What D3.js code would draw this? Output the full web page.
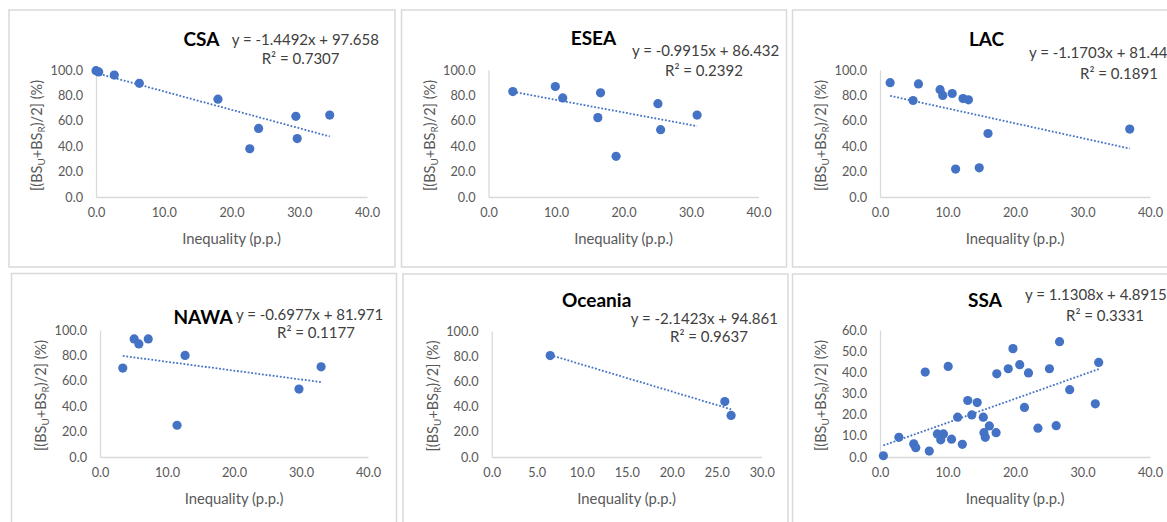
<!DOCTYPE html>
<html>
<head>
<meta charset="utf-8">
<script src="https://cdn.jsdelivr.net/npm/d3@7"></script>
<style>
  html, body { margin: 0; padding: 0; background: #ffffff; }
  svg { display: block; font-family: Lato, "Open Sans", "Liberation Sans", sans-serif; }
</style>
</head>
<body>
<svg id="chart" width="1167" height="522"></svg>
<script>
// Regions, one small multiple each
const regions = ["CSA", "ESEA", "LAC", "NAWA", "Oceania", "SSA"];

// Inequality (p.p.) and average basic-services coverage (%) per country
const csaIneq  = [0.0, 0.4, 2.7, 6.4, 18.0, 22.7, 24.0, 29.5, 29.7, 34.5];
const csaCover = [99.5, 98.5, 96.0, 89.5, 77.0, 38.0, 54.0, 63.5, 46.0, 64.5];

const eseaIneq  = [3.6, 9.9, 11.0, 16.2, 16.6, 18.9, 25.1, 25.5, 30.9];
const eseaCover = [83.0, 87.0, 78.0, 62.5, 82.0, 32.0, 73.5, 53.0, 64.5];

const lacIneq  = [1.5, 4.9, 5.7, 8.9, 9.3, 10.7, 11.2, 12.3, 13.1, 14.7, 16.0, 37.0];
const lacCover = [90.0, 76.0, 89.0, 84.5, 80.0, 81.5, 22.0, 77.5, 76.5, 23.0, 50.0, 53.5];

const nawaIneq  = [3.4, 5.1, 5.8, 7.2, 11.5, 12.7, 29.7, 33.0];
const nawaCover = [70.0, 93.0, 89.0, 93.0, 25.0, 80.0, 53.5, 71.0];

const oceaniaIneq  = [6.5, 25.9, 26.6];
const oceaniaCover = [80.5, 44.0, 33.0];

const ssaIneq  = [0.5, 2.8, 5.0, 5.3, 7.3, 6.7, 10.1, 8.5, 9.4, 9.0, 10.6, 12.2,
                  11.5, 13.0, 14.4, 13.6, 15.3, 16.2, 15.4, 15.6, 17.2, 17.3,
                  19.0, 19.7, 20.7, 22.0, 21.4, 23.4, 25.1, 26.1, 26.6, 28.1,
                  31.9, 32.4];
const ssaCover = [0.6, 9.3, 6.2, 4.4, 2.8, 40.1, 42.8, 10.9, 10.9, 8.1, 8.4, 6.0,
                  18.8, 26.7, 25.7, 19.9, 18.8, 14.7, 11.5, 9.3, 11.5, 39.3,
                  41.7, 51.2, 43.6, 39.7, 23.4, 13.6, 41.7, 14.8, 54.5, 31.8,
                  25.1, 44.7];

const ineqSeries  = [csaIneq, eseaIneq, lacIneq, nawaIneq, oceaniaIneq, ssaIneq];
const coverSeries = [csaCover, eseaCover, lacCover, nawaCover, oceaniaCover, ssaCover];

// Linear trendline fits
const slopes     = [-1.4492, -0.9915, -1.1703, -0.6977, -2.1423, 1.1308];
const intercepts = [97.658, 86.432, 81.44, 81.971, 94.861, 4.8915];
const rSquared   = [0.7307, 0.2392, 0.1891, 0.1177, 0.9637, 0.3331];

// Axis ticks
const xTicksWide    = [0, 10, 20, 30, 40];
const xTicksOceania = [0, 5, 10, 15, 20, 25, 30];
const yTicksPct     = [0, 20, 40, 60, 80, 100];
const yTicksSSA     = [0, 10, 20, 30, 40, 50, 60];

const xTickSets = [xTicksWide, xTicksWide, xTicksWide, xTicksWide, xTicksOceania, xTicksWide];
const yTickSets = [yTicksPct, yTicksPct, yTicksPct, yTicksPct, yTicksPct, yTicksSSA];

const xAxisTitle = "Inequality (p.p.)";

// Panel geometry: frame, plot ranges, and label anchors (px)
const layout = [
  { box: [9, 10, 386, 257],       xr: [96, 367],      yr: [197, 70],  title: [201.5, 45.5], eq: [231.7, 45],  r2: [261.7, 64] },
  { box: [401.5, 10, 385, 257],   xr: [488.5, 758.5], yr: [197, 70],  title: [593.5, 45],   eq: [632, 56],    r2: [665, 76] },
  { box: [792.5, 10, 400, 257],   xr: [880, 1150],    yr: [197, 70],  title: [986.5, 46],   eq: [1029, 58],   r2: [1080, 79] },
  { box: [11.5, 273.5, 385, 270], xr: [100, 368],     yr: [457, 330], title: [203, 323.5],  eq: [236, 320],   r2: [277, 338] },
  { box: [403, 274, 385, 270],    xr: [491.7, 761.7], yr: [457, 331], title: [596.7, 307],  eq: [630.7, 324], r2: [670, 342] },
  { box: [792.5, 274, 400, 270],  xr: [880, 1150],    yr: [457, 330], title: [985, 307],    eq: [1025, 300],  r2: [1066, 321] }
];

const BLUE = "#4472c4";
const AXIS_GREY = "#d9d9d9";
const LABEL_GREY = "#595959";
const fmt1 = d3.format(".1f");

const svg = d3.select("#chart");
svg.append("rect").attr("width", 1167).attr("height", 522).attr("fill", "#ffffff");

regions.forEach((name, i) => {
  const L = layout[i];
  const xs = ineqSeries[i];
  const ys = coverSeries[i];
  const xt = xTickSets[i];
  const yt = yTickSets[i];

  const g = svg.append("g").attr("class", "panel");

  // chart frame
  g.append("rect")
    .attr("x", L.box[0]).attr("y", L.box[1])
    .attr("width", L.box[2]).attr("height", L.box[3])
    .attr("fill", "#ffffff")
    .attr("stroke", AXIS_GREY).attr("stroke-width", 1.5);

  const x = d3.scaleLinear().domain([xt[0], xt[xt.length - 1]]).range(L.xr);
  const y = d3.scaleLinear().domain([yt[0], yt[yt.length - 1]]).range(L.yr);

  // x axis
  const gx = g.append("g")
    .attr("transform", `translate(0,${L.yr[0]})`)
    .call(d3.axisBottom(x).tickValues(xt).tickFormat(fmt1).tickSize(0).tickPadding(11));
  // y axis
  const gy = g.append("g")
    .attr("transform", `translate(${L.xr[0]},0)`)
    .call(d3.axisLeft(y).tickValues(yt).tickFormat(fmt1).tickSize(0).tickPadding(13));

  [gx, gy].forEach(a => {
    a.select(".domain").attr("stroke", AXIS_GREY).attr("stroke-width", 1.3);
    a.selectAll("text")
      .attr("fill", LABEL_GREY)
      .style("font-size", "12.7px")
      .style("font-family", "Lato, 'Open Sans', sans-serif");
  });

  // axis titles
  g.append("text")
    .attr("x", (L.xr[0] + L.xr[1]) / 2)
    .attr("y", L.yr[0] + 47)
    .attr("text-anchor", "middle")
    .attr("fill", LABEL_GREY)
    .style("font-size", "14.8px")
    .text(xAxisTitle);

  const yTitle = g.append("text")
    .attr("transform", `translate(${L.xr[0] - 54},${(L.yr[0] + L.yr[1]) / 2 + 2}) rotate(-90)`)
    .attr("text-anchor", "middle")
    .attr("fill", LABEL_GREY)
    .style("font-size", "14.5px");
  yTitle.append("tspan").text("[(BS");
  yTitle.append("tspan").attr("dy", 3).style("font-size", "10px").text("U");
  yTitle.append("tspan").attr("dy", -3).text("+BS");
  yTitle.append("tspan").attr("dy", 3).style("font-size", "10px").text("R");
  yTitle.append("tspan").attr("dy", -3).text(")/2] (%)");

  // trendline over the observed range
  const [xmin, xmax] = d3.extent(xs);
  const fit = v => slopes[i] * v + intercepts[i];
  g.append("line")
    .attr("x1", x(xmin)).attr("y1", y(fit(xmin)))
    .attr("x2", x(xmax)).attr("y2", y(fit(xmax)))
    .attr("stroke", BLUE)
    .attr("stroke-width", 1.8)
    .attr("stroke-dasharray", "1.8,1.8");

  // country markers
  g.append("g").selectAll("circle")
    .data(xs.map((v, k) => [v, ys[k]]))
    .join("circle")
    .attr("cx", d => x(d[0]))
    .attr("cy", d => y(d[1]))
    .attr("r", 4.6)
    .attr("fill", BLUE);

  // region title
  g.append("text")
    .attr("x", L.title[0]).attr("y", L.title[1])
    .attr("text-anchor", "middle")
    .attr("fill", "#000000")
    .style("font-size", "19px")
    .style("font-weight", 700)
    .text(name);

  // trendline equation and R²
  const sign = intercepts[i] < 0 ? "-" : "+";
  g.append("text")
    .attr("x", L.eq[0]).attr("y", L.eq[1])
    .attr("fill", "#404040")
    .style("font-size", "15px")
    .text(`y = ${slopes[i].toFixed(4)}x ${sign} ${Math.abs(intercepts[i])}`);
  g.append("text")
    .attr("x", L.r2[0]).attr("y", L.r2[1])
    .attr("fill", "#404040")
    .style("font-size", "15px")
    .text(`R² = ${rSquared[i].toFixed(4)}`);
});
</script>
</body>
</html>
